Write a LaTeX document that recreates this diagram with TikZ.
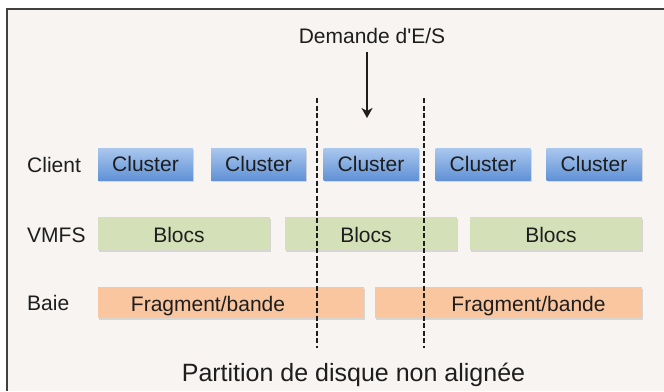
\documentclass[tikz,border=0pt]{standalone}
\usepackage{fontspec}
\setmainfont{Liberation Sans}
\usetikzlibrary{shadows,arrows.meta}
\definecolor{bgc}{HTML}{F7F4F1}
\definecolor{framec}{HTML}{404040}
\definecolor{bluetop}{HTML}{AAC7EE}
\definecolor{bluebot}{HTML}{6192D6}
\definecolor{greenc}{HTML}{D4E0B8}
\definecolor{orangec}{HTML}{F9C6A0}
\definecolor{txt}{HTML}{1E1E1E}
\begin{document}
\begin{tikzpicture}[x=1pt,y=-1pt,
  txtstyle/.style={text=txt, font=\fontsize{21}{25}\selectfont, inner sep=0pt},
  rowlabel/.style={txtstyle, anchor=west},
  boxbase/.style={inner sep=0pt, outer sep=0pt, draw=none,
    drop shadow={shadow xshift=1pt, shadow yshift=-1.5pt, fill=black, opacity=0.12},
    text=txt, font=\fontsize{21}{25}\selectfont},
  clusterbox/.style={boxbase, top color=bluetop, bottom color=bluebot, minimum width=95pt, minimum height=32pt},
  blocbox/.style={boxbase, fill=greenc, minimum width=172pt, minimum height=33pt},
  fragbox/.style={boxbase, fill=orangec, minimum height=31pt},
  boxtext/.style={txtstyle, text height=15pt, text depth=0pt, yshift=-1.5pt},
  splitline/.style={draw=txt, line width=1.8pt, dash pattern=on 5pt off 2.5pt},
  ioarrow/.style={draw=txt, line width=1.8pt, -{Stealth[length=10pt,width=11pt,inset=3pt]}}
]
\useasboundingbox (0,0) rectangle (664,391);
\fill[bgc] (7,9) rectangle (664,391);
\draw[framec, line width=2pt] (7,391) -- (7,9) -- (664,9);

% request
\node[txtstyle] (dem) at (372,36) {Demande d\textquotesingle E/S};
\coordinate (a1) at (367,52);
\coordinate (a2) at (367,118);
\draw[ioarrow] (a1) -- (a2);

% row labels
\node[rowlabel] (lclient) at (27,165) {Client};
\node[rowlabel] (lvmfs) at (27,235) {VMFS};
\node[rowlabel] (lbaie) at (27,303) {Baie};

% client clusters
\node[clusterbox] (c1) at (145.5,164) {Cluster};
\node[clusterbox] (c2) at (258.5,164) {Cluster};
\node[clusterbox] (c3) at (371,164) {Cluster};
\node[clusterbox] (c4) at (483,164) {Cluster};
\node[clusterbox] (c5) at (594,164) {Cluster};

% VMFS blocks
\node[blocbox, label={[boxtext, xshift=-5pt]center:Blocs}] (b1) at (184,233.5) {};
\node[blocbox, label={[boxtext, xshift=-5pt]center:Blocs}] (b2) at (371,233.5) {};
\node[blocbox, label={[boxtext, xshift=-5pt]center:Blocs}] (b3) at (556,233.5) {};

% array stripes
\node[fragbox, minimum width=266pt, label={[boxtext, xshift=-23pt]center:Fragment/bande}] (f1) at (231,302.5) {};
\node[fragbox, minimum width=267pt, label={[boxtext, xshift=20pt]center:Fragment/bande}] (f2) at (508.5,302.5) {};

% partition boundaries
\coordinate (d1t) at (317,98);
\coordinate (d1b) at (317,348);
\coordinate (d2t) at (424,98);
\coordinate (d2b) at (424,348);
\draw[splitline] (d1t) -- (d1b);
\draw[splitline] (d2t) -- (d2b);

\node[text=txt, font=\fontsize{25}{30}\selectfont, inner sep=0pt, anchor=base] (part) at (353.5,381) {Partition de disque non alignée};
\end{tikzpicture}
\end{document}
